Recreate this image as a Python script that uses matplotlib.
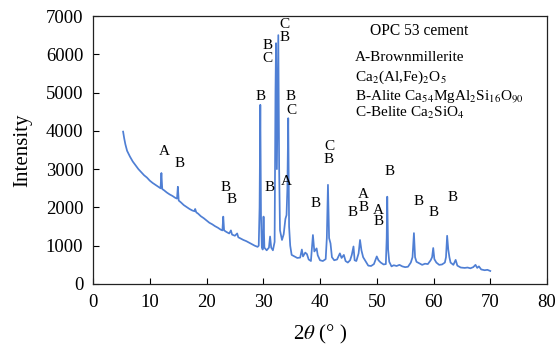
import matplotlib
matplotlib.use("Agg")
import matplotlib.pyplot as plt

# ---- data ----
two_theta = [5.3, 5.5, 5.7, 6.0, 6.5, 7.0, 7.5, 8.0, 8.5, 9.0, 9.5, 10.0, 10.5, 11.0, 11.5, 11.9,
             12.05, 12.2, 12.5, 13.0, 13.5, 14.0, 14.5, 14.8, 14.95, 15.1, 15.5, 16.0, 16.5, 17.0,
             17.5, 17.9, 18.0, 18.2, 18.5, 19.0, 19.5, 20.0, 20.5, 21.0, 21.5, 22.0, 22.5, 22.8,
             22.95, 23.1, 23.5, 24.0, 24.3, 24.5, 25.0, 25.4, 25.6, 26.0, 26.5, 27.0, 27.5, 28.0,
             28.5, 29.0, 29.2, 29.35, 29.48, 29.6, 29.75, 29.9, 30.05, 30.2, 30.6, 31.0, 31.2, 31.4,
             31.7, 32.0, 32.15, 32.25, 32.4, 32.5, 32.65, 32.8, 32.95, 33.3, 33.6, 33.9, 34.1, 34.25,
             34.4, 34.55, 34.75, 35.0, 35.5, 36.0, 36.5, 36.8, 37.0, 37.4, 37.7, 38.0, 38.4, 38.75,
             39.0, 39.4, 39.6, 40.0, 40.5, 41.0, 41.2, 41.4, 41.6, 41.85, 42.1, 42.5, 43.0, 43.5,
             43.8, 44.2, 44.5, 44.9, 45.3, 45.6, 45.9, 46.1, 46.4, 46.8, 47.05, 47.3, 47.6, 48.0,
             48.5, 49.0, 49.5, 50.0, 50.3, 50.7, 51.2, 51.6, 51.75, 51.85, 52.0, 52.2, 52.6, 53.0,
             53.5, 54.0, 54.5, 55.0, 55.5, 56.0, 56.3, 56.55, 56.75, 57.0, 57.5, 58.0, 58.5, 59.0,
             59.5, 59.75, 59.95, 60.15, 60.5, 61.0, 61.5, 62.0, 62.2, 62.4, 62.6, 62.8, 63.0, 63.5,
             63.9, 64.2, 64.8, 65.5, 66.0, 66.5, 67.0, 67.4, 67.7, 68.0, 68.4, 69.0, 69.5, 70.0]
intensity = [3980, 3800, 3650, 3480, 3330, 3200, 3100, 3000, 2920, 2840, 2780, 2700, 2640, 2590, 2540, 2500,
             2900, 2480, 2450, 2390, 2340, 2300, 2250, 2230, 2540, 2180, 2130, 2060, 2010, 1960,
             1920, 1900, 1960, 1870, 1840, 1770, 1720, 1660, 1600, 1560, 1510, 1470, 1420, 1400,
             1760, 1400, 1360, 1320, 1400, 1290, 1260, 1320, 1220, 1190, 1150, 1120, 1080, 1040,
             1000, 970, 1000, 2000, 4680, 1800, 960, 900, 1760, 950, 880, 950, 1240, 950,
             880, 1100, 5000, 6290, 3000, 4500, 6500, 3000, 1400, 1150, 1300, 1700, 1800, 2500,
             4330, 1500, 1000, 760, 720, 680, 690, 900, 720, 820, 780, 640, 600, 1280,
             850, 930, 750, 620, 600, 650, 1200, 2590, 1200, 1060, 700, 620, 640, 800,
             680, 760, 600, 560, 620, 760, 980, 620, 600, 800, 1150, 880, 700, 600,
             480, 470, 520, 720, 620, 560, 510, 520, 1200, 2280, 900, 580, 460, 490,
             470, 500, 460, 440, 450, 560, 700, 1330, 700, 580, 540, 500, 530, 520,
             620, 700, 940, 650, 560, 500, 510, 560, 700, 1260, 900, 700, 560, 500,
             630, 480, 430, 420, 430, 410, 440, 500, 420, 460, 380, 360, 370, 340]

x_ticks = [0, 10, 20, 30, 40, 50, 60, 70, 80]
y_ticks = [0, 1000, 2000, 3000, 4000, 5000, 6000, 7000]

# phase labels on the peaks
peak_labels = ["A", "B", "B", "B", "B", "B", "C", "C", "B", "B", "C", "B", "A", "B",
               "C", "B", "B", "A", "B", "A", "B", "B", "B", "B", "B"]
peak_label_x = [12.5, 15.2, 23.4, 24.5, 29.6, 30.8, 30.8, 33.7, 33.7, 34.9, 34.9, 31.2, 34.0, 39.3,
                41.6, 41.6, 45.8, 47.6, 47.6, 50.3, 50.3, 52.3, 57.4, 60.1, 63.4]
peak_label_y = [3450, 3160, 2530, 2220, 4910, 6240, 5900, 6770, 6430, 4890, 4520, 2530, 2690, 2090,
                3580, 3240, 1880, 2350, 2010, 1930, 1620, 2930, 2150, 1860, 2260]

legend_title = "OPC 53 cement"
legend_lines = ["A-Brownmillerite",
                "Ca$_2$(Al,Fe)$_2$O$_5$",
                "B-Alite Ca$_{54}$MgAl$_2$Si$_{16}$O$_{90}$",
                "C-Belite Ca$_2$SiO$_4$"]
legend_y = [5910, 5400, 4900, 4460]

# ---- styling ----
plt.rcParams['font.family'] = ['Liberation Serif', 'DejaVu Serif']
plt.rcParams['mathtext.fontset'] = 'stix'

fig = plt.figure(figsize=(5.58, 3.51), dpi=100)
ax = fig.add_axes([0.1667, 0.1909, 0.8136, 0.7635])

ax.plot(two_theta, intensity, color='#4f7fd4', linewidth=1.25)

ax.set_xlim(0, 80)
ax.set_ylim(0, 7000)
ax.set_xticks(x_ticks)
ax.set_yticks(y_ticks)
ax.tick_params(direction='in', length=4, width=0.8, labelsize=13.5, colors='black')
ax.tick_params(axis='y', pad=7)
ax.tick_params(axis='x', pad=7.5)
for s in ax.spines.values():
    s.set_linewidth(0.9)
    s.set_color('#222222')

ax.set_xlabel(r"2$\theta$ (° )", fontsize=15, labelpad=8)
ax.set_ylabel("Intensity", fontsize=15, labelpad=10)

for t, x, y in zip(peak_labels, peak_label_x, peak_label_y):
    ax.text(x, y, t, ha='center', va='center', fontsize=11)

ax.text(57.4, 6620, legend_title, ha='center', va='center', fontsize=11.2)
for t, y in zip(legend_lines, legend_y):
    ax.text(46.2, y, t, ha='left', va='center', fontsize=11)

fig.savefig("out.png", dpi=100)
